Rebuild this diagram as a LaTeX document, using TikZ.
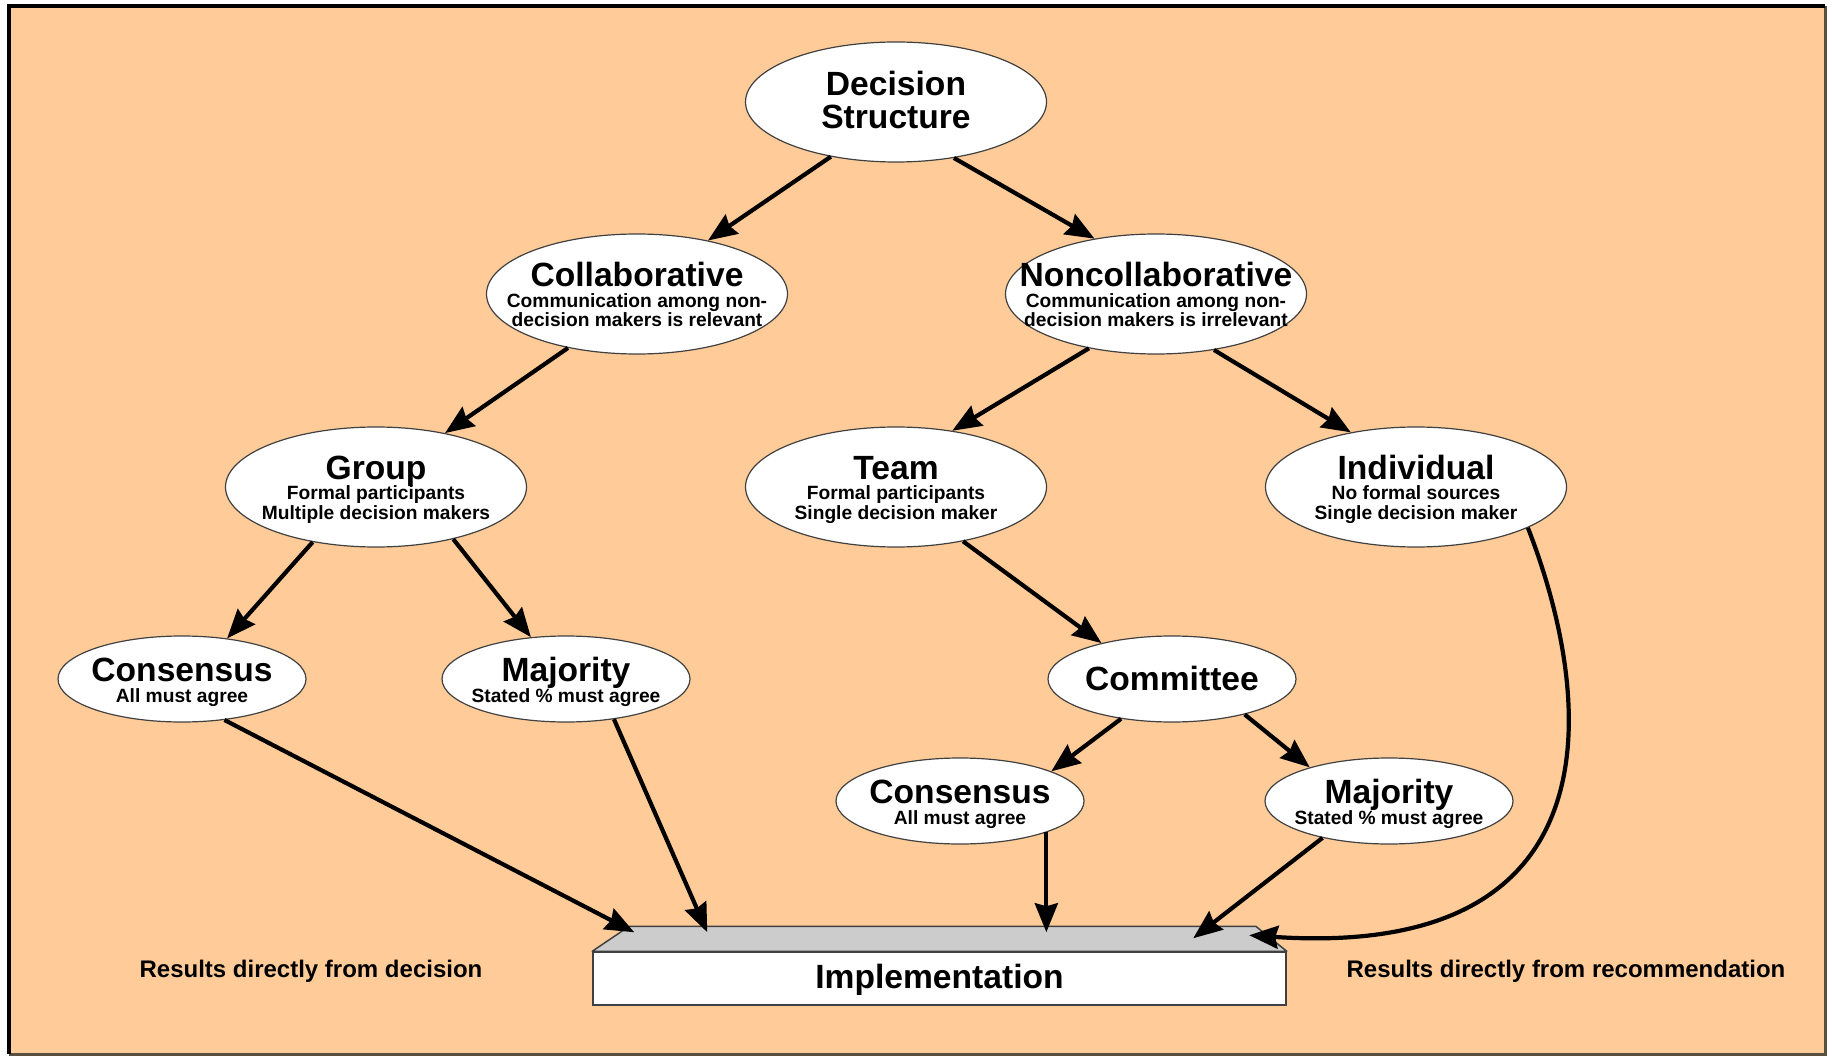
\documentclass[tikz,border=0pt]{standalone}
\usepackage{fontspec}
\setmainfont{Liberation Sans}
\usetikzlibrary{arrows.meta,shapes.geometric,calc}
\definecolor{peach}{HTML}{FFCC99}
\definecolor{topgray}{HTML}{CCCCCC}
\definecolor{edgegray}{HTML}{404040}
\definecolor{frameb}{HTML}{5A5040}
\begin{document}
\begin{tikzpicture}[x=1pt,y=-1pt,
  big/.style={ellipse, draw=edgegray, fill=white, line width=1.2pt, minimum width=301pt, minimum height=120pt, inner sep=0pt},
  small/.style={ellipse, draw=edgegray, fill=white, line width=1.2pt, minimum width=248pt, minimum height=86pt, inner sep=0pt},
  ttl/.style={font=\fontsize{33.6}{36}\selectfont\bfseries, anchor=base, inner sep=0pt},
  subt/.style={font=\fontsize{19.2}{20}\selectfont\bfseries, anchor=base, inner sep=0pt},
  lbl/.style={font=\fontsize{24}{26}\selectfont\bfseries, anchor=base, inner sep=0pt},
  arr/.style={line width=4.2pt, -{Stealth[length=29pt,width=23pt,inset=3pt]}}]
\useasboundingbox (0,0) rectangle (1832,1056);
\fill[white] (0,0) rectangle (1832,1056);
\fill[peach] (9,6) rectangle (1825,1054);
\draw[line width=3pt, frameb] (9,1054) -- (1825,1054) -- (1825,6);
\draw[line width=4.5pt, black] (1825,6) -- (9,6) -- (9,1054);

% ellipses
\node[big] (ds) at (896,102) {};
\node[ttl] (dsT1) at (896,96) {Decision};
\node[ttl] (dsT2) at (896,129) {Structure};

\node[big] (collab) at (637,294) {};
\node[ttl] (collabT) at (637,287) {Collaborative};
\node[subt] (collabS1) at (637,308) {Communication among non-};
\node[subt] (collabS2) at (637,327) {decision makers is relevant};

\node[big] (noncol) at (1156,294) {};
\node[ttl] (noncolT) at (1156,287) {Noncollaborative};
\node[subt] (noncolS1) at (1156,308) {Communication among non-};
\node[subt] (noncolS2) at (1156,327) {decision makers is irrelevant};

\node[big] (group) at (376,487) {};
\node[ttl] (groupT) at (376,479) {Group};
\node[subt] (groupS1) at (376,500) {Formal participants};
\node[subt] (groupS2) at (376,519) {Multiple decision makers};

\node[big] (team) at (896,487) {};
\node[ttl] (teamT) at (896,479) {Team};
\node[subt] (teamS1) at (896,500) {Formal participants};
\node[subt] (teamS2) at (896,519) {Single decision maker};

\node[big] (indiv) at (1416,487) {};
\node[ttl] (indivT) at (1416,479) {Individual};
\node[subt] (indivS1) at (1416,500) {No formal sources};
\node[subt] (indivS2) at (1416,519) {Single decision maker};

\node[small] (consL) at (182,679) {};
\node[ttl] (consLT) at (182,681) {Consensus};
\node[subt] (consLS) at (182,702) {All must agree};

\node[small] (majL) at (566,679) {};
\node[ttl] (majLT) at (566,681) {Majority};
\node[subt] (majLS) at (566,702) {Stated \% must agree};

\node[small] (comm) at (1172,679) {};
\node[ttl] (commT) at (1172,690) {Committee};

\node[small] (consR) at (960,801) {};
\node[ttl] (consRT) at (960,803) {Consensus};
\node[subt] (consRS) at (960,824) {All must agree};

\node[small] (majR) at (1389,801) {};
\node[ttl] (majRT) at (1389,803) {Majority};
\node[subt] (majRS) at (1389,824) {Stated \% must agree};

% implementation box
\node[draw=edgegray, fill=white, line width=1.5pt, minimum width=693pt, minimum height=53pt, inner sep=0pt] (impl) at (939.5,978.5) {};
\draw[draw=edgegray, fill=topgray, line width=1.5pt, line join=round] (impl.north west) -- ($(impl.north west)+(37,-25)$) -- ($(impl.north east)+(-31,-25)$) -- (impl.north east) -- cycle;
\node[ttl] (implT) at (939.5,988) {Implementation};

\coordinate (t1) at ($(impl.north west)+(42,-19)$);
\coordinate (t2) at ($(impl.north west)+(115,-19)$);
\coordinate (t3) at ($(impl.north west)+(455,-19)$);
\coordinate (t4) at ($(impl.north west)+(601,-13)$);
\coordinate (t5) at ($(impl.north west)+(657,-16)$);

% labels
\node[lbl] (lblL) at (311,977) {Results directly from decision};
\node[lbl] (lblR) at (1566,977) {Results directly from recommendation};

% connectors
\draw[arr] (ds.220) -- (collab.37);
\draw[arr] (ds.316) -- (noncol.138);
\draw[arr] (collab.218) -- (group.38);
\draw[arr] (noncol.219) -- (team.45);
\draw[arr] (noncol.316) -- (indiv.140);
\draw[arr] (group.221) -- (consL.42);
\draw[arr] (group.326) -- (majL.130);
\draw[arr] (team.321) -- (comm.153);
\draw[arr] (comm.218) -- (consR.18);
\draw[arr] (comm.334) -- (majR.157);
\draw[arr] (consL.316) -- (t1);
\draw[arr] (majL.320) -- (t2);
\draw[arr] (consR.340) -- (consR.340 |- t3);
\draw[arr] (majR.209) -- (t4);
\draw[arr] (indiv.340) .. controls (1595,700) and (1620,960) .. (t5);
\end{tikzpicture}
\end{document}
